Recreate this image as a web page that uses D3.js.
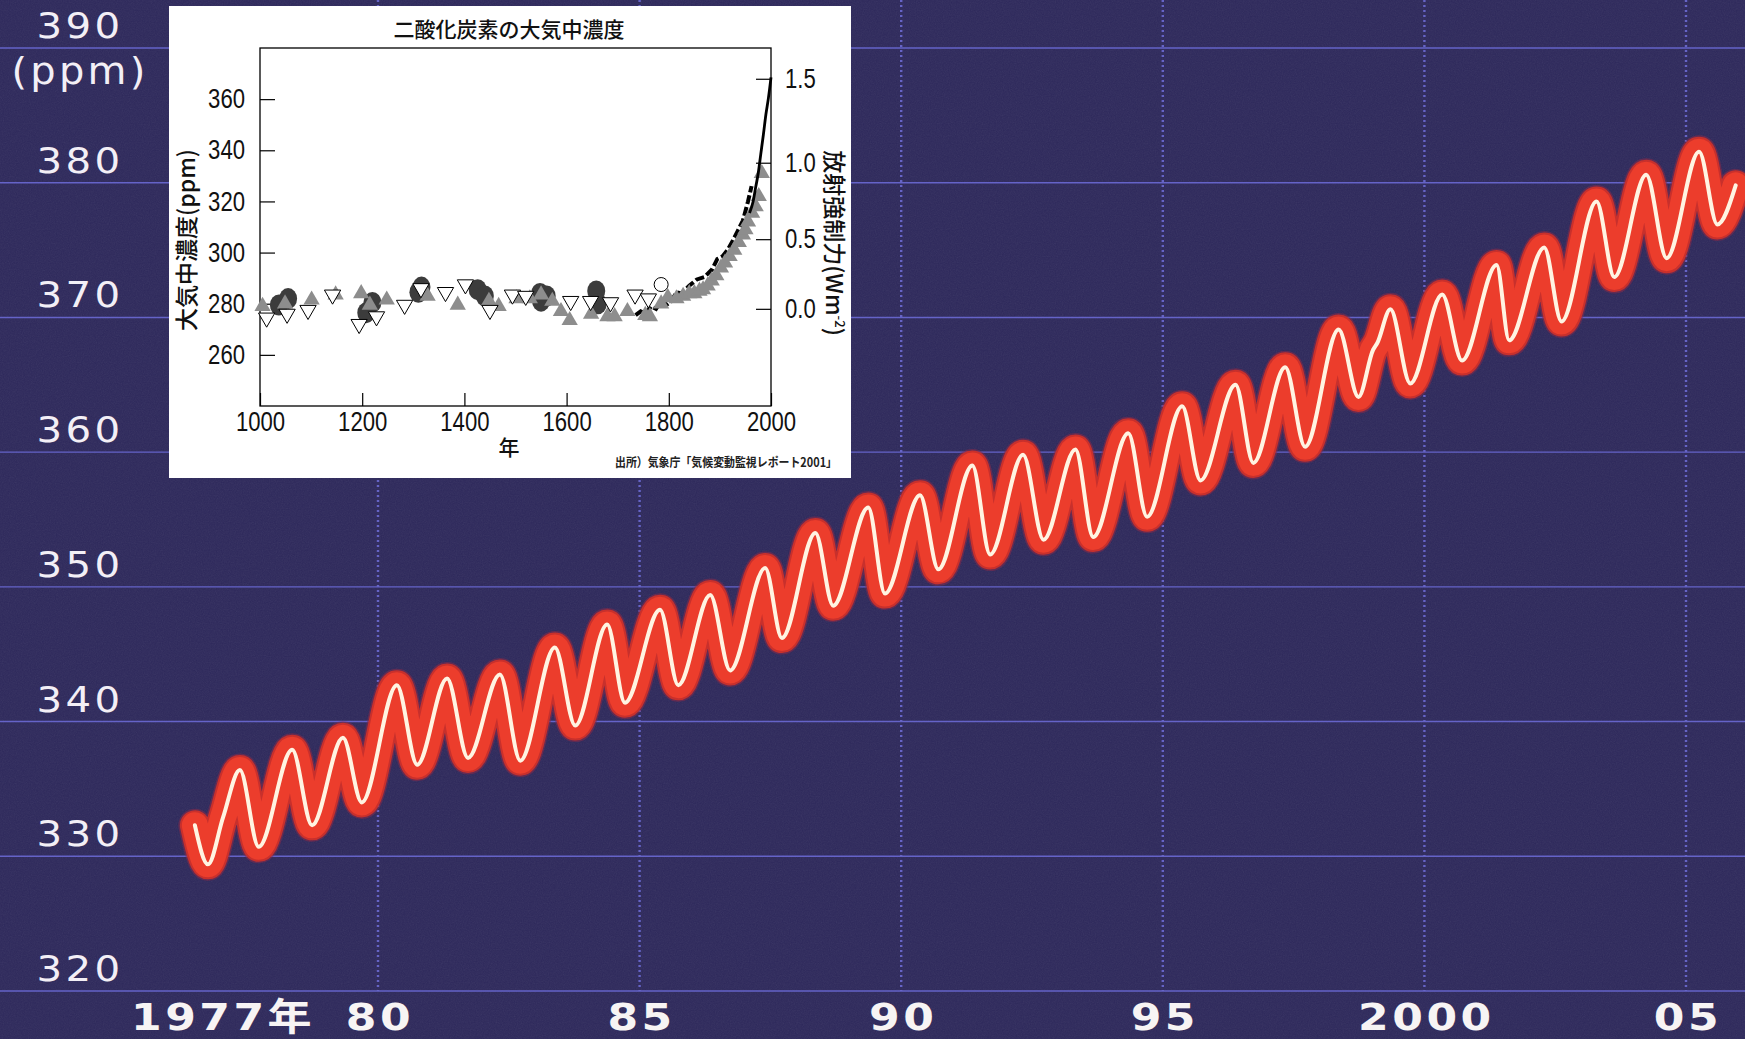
<!DOCTYPE html>
<html><head><meta charset="utf-8">
<script src="https://cdn.jsdelivr.net/npm/d3@7"></script>
<style>html,body{margin:0;padding:0;background:#2d285b;overflow:hidden}</style>
</head><body><svg id="c" width="1745" height="1039"></svg>
<script>
// ---------- main chart data (Mauna Loa-type CO2 record) ----------
const years = [1976.50,1976.75,1977.04,1977.36,1977.72,1978.36,1978.74,1979.33,1979.69,1980.36,1980.75,1981.32,1981.72,1982.33,1982.72,1983.38,1983.77,1984.38,1984.72,1985.39,1985.74,1986.35,1986.73,1987.40,1987.72,1988.36,1988.70,1989.37,1989.69,1990.36,1990.71,1991.36,1991.70,1992.33,1992.72,1993.33,1993.67,1994.34,1994.70,1995.37,1995.72,1996.39,1996.73,1997.34,1997.72,1998.36,1998.74,1999.02,1999.10,1999.35,1999.73,2000.34,2000.72,2001.38,2001.62,2002.29,2002.62,2003.29,2003.63,2004.24,2004.63,2005.25,2005.60,2005.95];
const ppm   = [332.3,329.4,332.9,336.4,330.7,337.9,332.3,338.8,334.0,342.7,336.8,343.2,337.3,343.5,337.1,345.5,339.7,347.2,341.4,348.3,342.7,349.4,343.8,351.4,346.2,354.0,348.6,355.9,349.5,356.8,351.3,359.0,352.4,359.8,353.5,360.2,353.7,361.4,355.2,363.4,357.9,365.0,359.2,366.3,360.4,369.1,364.1,367.6,368.1,370.6,365.1,371.7,366.8,373.9,368.3,375.2,369.7,378.6,373.0,380.6,374.4,382.3,376.9,379.8];
const yTicks = [320,330,340,350,360,370,380,390];
const xTickYears = [1977,1980,1985,1990,1995,2000,2005];
const xTickLabels = ["1977年","80","85","90","95","2000","05"];
const xGridYears = [1980,1985,1990,1995,2000,2005];
const yUnit = "(ppm)";

// ---------- inset data ----------
const insetTitle = "二酸化炭素の大気中濃度";
const insetYTitle = "大気中濃度(ppm)";
const insetRTitle = "放射強制力(Wm";
const insetXTitle = "年";
const insetSource = "出所）気象庁「気候変動監視レポート2001」";
const insetXTicks = [1000,1200,1400,1600,1800,2000];
const insetYTicks = [260,280,300,320,340,360];
const forcingTicks = [0,0.5,1.0,1.5];
const forcingLabels = ["0.0","0.5","1.0","1.5"];
const circleYears = [1037,1055,1208,1220,1310,1316,1426,1440,1548,1561,1550,1658,1661];
const circleVals  = [279.5,282,276.5,280.5,284.5,286.5,285.5,283,284,283,281,285,280];
const triUpYears = [1005,1049,1101,1148,1198,1215,1248,1328,1387,1448,1467,1502,1528,1550,1572,1589,1606,1648,1680,1694,1719,1754,1763,1785,1798,1815,1828,1840,1850,1860,1867,1876,1884,1893,1902,1910,1919,1928,1937,1945,1950,1955,1963,1970,1976,1982];
const triUpVals  = [279,280,281.5,283.5,284,279.5,281.5,283,279.5,281,279,282,282,283.5,281,277,273.5,276,275,275,277,275.5,275,280,282.5,282,283,284,284,285,285.5,287,289,291,294,296,298.5,301,304,307,309,312,315.5,318,322,331];
const triDownYears = [1013,1053,1094,1142,1194,1228,1283,1315,1363,1402,1450,1494,1520,1608,1647,1686,1734,1760];
const triDownVals  = [274.5,276,277.5,283.5,272,275,279.5,286,284.5,287.5,277.5,283.5,283,281,281,280.5,283.5,282];
const openCircleYears = [1785];
const openCircleVals = [287.5];
const dashYears = [1735,1745,1755,1765,1775,1785,1795,1805,1815,1825,1840,1855,1870,1885,1895,1905,1915,1925,1935,1945,1955,1962];
const dashVals  = [275.5,277,276,279,278,281,279.5,281,284.5,284,287,289.5,290.5,293.5,297.5,298.5,301,304.5,308.5,312.5,320,326];
const solidYears = [1958,1965,1970,1975,1980,1985,1990,1995,2000];
const solidVals  = [315.5,320,325.5,331,338.5,346,354,360.5,368.5];

const svg = d3.select("#c");
const W = 1745, H = 1039;

// background + subtle fabric noise
const defs = svg.append("defs");
const f = defs.append("filter").attr("id","noise").attr("x",0).attr("y",0).attr("width","100%").attr("height","100%");
f.append("feTurbulence").attr("type","fractalNoise").attr("baseFrequency",0.85).attr("numOctaves",2).attr("seed",4);
f.append("feColorMatrix").attr("type","saturate").attr("values",0);
f.append("feComponentTransfer").append("feFuncA").attr("type","table").attr("tableValues","0 0.09");
svg.append("rect").attr("width",W).attr("height",H).attr("fill","#2d285b");
svg.append("rect").attr("width",W).attr("height",H).attr("filter","url(#noise)");

// scales
const x = d3.scaleLinear().domain([1980,2005]).range([378,1686]);
const y = d3.scaleLinear().domain([320,390]).range([991,48]);

// grid
svg.append("g").selectAll("line").data(yTicks).join("line")
  .attr("x1",0).attr("x2",W).attr("y1",d=>y(d)).attr("y2",d=>y(d))
  .attr("stroke","#6563c8").attr("stroke-width",1.4);
svg.append("g").selectAll("line").data(xGridYears).join("line")
  .attr("x1",d=>x(d)).attr("x2",d=>x(d)).attr("y1",0).attr("y2",y(320))
  .attr("stroke","#6664c6").attr("stroke-width",2.4).attr("stroke-dasharray","2,3");

// y labels
svg.append("g").selectAll("text").data(yTicks).join("text")
  .attr("transform",d=>`translate(80,${y(d)-10}) scale(1.12,1)`).attr("text-anchor","middle")
  .attr("font-family","DejaVu Sans").attr("font-size",36).attr("letter-spacing",3)
  .attr("fill","#f3eff6").text(d=>d);
svg.append("text").attr("transform",`translate(80,${y(390)+36}) scale(1.08,1)`).attr("text-anchor","middle")
  .attr("font-family","DejaVu Sans").attr("font-size",37).attr("letter-spacing",3)
  .attr("fill","#f3eff6").text(yUnit);

// x labels
svg.append("g").selectAll("text").data(xTickYears).join("text")
  .attr("transform",d=>`translate(${x(d)+2},1030) scale(1.16,1)`).attr("text-anchor","middle")
  .attr("font-family","DejaVu Sans, Noto Sans CJK JP").attr("font-weight","bold")
  .attr("font-size",38).attr("letter-spacing",3)
  .attr("fill","#f7f4f4").text((d,i)=>xTickLabels[i]);

// CO2 line
const pts = years.map((d,i)=>[d,ppm[i]]);
const line = d3.line().x(d=>x(d[0])).y(d=>y(d[1])).curve(d3.curveMonotoneX);
const gL = svg.append("g").attr("fill","none").attr("stroke-linejoin","round").attr("stroke-linecap","round");
gL.append("path").attr("d",line(pts)).attr("stroke","#8a2a48").attr("stroke-opacity",0.55).attr("stroke-width",33);
gL.append("path").attr("d",line(pts)).attr("stroke","#c8302c").attr("stroke-width",30);
gL.append("path").attr("d",line(pts)).attr("stroke","#ec3d2c").attr("stroke-width",26);
gL.append("path").attr("d",line(pts)).attr("stroke","#fff4e2").attr("stroke-width",4);

// ---------- inset ----------
const ins = svg.append("g");
ins.append("rect").attr("x",169).attr("y",6).attr("width",682).attr("height",472).attr("fill","#ffffff");
const ix = d3.scaleLinear().domain([1000,2000]).range([260,771]);
const iy = d3.scaleLinear().domain([240,380]).range([406,48]);
const SX = 0.82; // condensed digits

const axB = ins.append("g").attr("transform","translate(0,406)")
  .call(d3.axisBottom(ix).tickValues(insetXTicks).tickSize(-13).tickPadding(20).tickFormat(d3.format("d")));
const axL = ins.append("g").attr("transform","translate(260,0)")
  .call(d3.axisLeft(iy).tickValues(insetYTicks).tickSize(-15).tickPadding(15));
const axR = ins.append("g").attr("transform","translate(771,0)")
  .call(d3.axisRight(iy).tickValues(forcingTicks.map(v=>278*Math.exp(v/5.35))).tickSize(-15).tickPadding(14).tickFormat((d,i)=>forcingLabels[i]));
[axB,axL,axR].forEach(a=>{
  a.select(".domain").remove();
  a.selectAll("line").attr("stroke","#000").attr("stroke-width",1.2);
  a.selectAll("text").attr("font-family","Liberation Sans, Arial").attr("font-size",27).attr("fill","#111")
    .attr("x",function(){ return (+this.getAttribute("x")||0)/SX; })
    .attr("transform",`scale(${SX},1)`);
});
axB.selectAll("text").attr("dy","0.2em");
ins.append("rect").attr("x",260).attr("y",48).attr("width",511).attr("height",358)
  .attr("fill","none").attr("stroke","#000").attr("stroke-width",1.3);

// markers
const tri = d3.symbol().type(d3.symbolTriangle).size(115);
ins.append("g").selectAll("ellipse").data(circleYears).join("ellipse")
  .attr("cx",d=>ix(d)).attr("cy",(d,i)=>iy(circleVals[i])).attr("rx",9).attr("ry",10.5)
  .attr("fill","#3c3c3c");
ins.append("path").datum(dashYears.map((d,i)=>[d,dashVals[i]]))
  .attr("d",d3.line().x(d=>ix(d[0])).y(d=>iy(d[1])))
  .attr("fill","none").attr("stroke","#000").attr("stroke-width",4).attr("stroke-dasharray","9,3");
ins.append("g").selectAll("path").data(triUpYears).join("path")
  .attr("d",tri).attr("transform",(d,i)=>`translate(${ix(d)},${iy(triUpVals[i])})`)
  .attr("fill","#8d8d8d");
ins.append("g").selectAll("path").data(triDownYears).join("path")
  .attr("d",tri).attr("transform",(d,i)=>`translate(${ix(d)},${iy(triDownVals[i])}) rotate(180)`)
  .attr("fill","#fff").attr("stroke","#000").attr("stroke-width",1);
ins.append("g").selectAll("circle").data(openCircleYears).join("circle")
  .attr("cx",d=>ix(d)).attr("cy",(d,i)=>iy(openCircleVals[i])).attr("r",7)
  .attr("fill","#fff").attr("stroke","#000").attr("stroke-width",1);
ins.append("path").datum(solidYears.map((d,i)=>[d,solidVals[i]]))
  .attr("d",d3.line().x(d=>ix(d[0])).y(d=>iy(d[1])).curve(d3.curveMonotoneX))
  .attr("fill","none").attr("stroke","#000").attr("stroke-width",2.8);

// titles
const jp = "Noto Sans CJK JP";
ins.append("text").attr("x",509).attr("y",37).attr("text-anchor","middle")
  .attr("font-family",jp).attr("font-weight",500).attr("font-size",21).attr("fill","#111").text(insetTitle);
ins.append("text").attr("transform","translate(195,240) rotate(-90)").attr("text-anchor","middle")
  .attr("font-family",jp).attr("font-weight",500).attr("font-size",23).attr("fill","#111").text(insetYTitle);
const rt = ins.append("text").attr("transform","translate(826,243) rotate(90)").attr("text-anchor","middle")
  .attr("font-family",jp).attr("font-weight",500).attr("font-size",23).attr("fill","#111");
rt.append("tspan").text(insetRTitle);
rt.append("tspan").attr("font-size",13).attr("dy",-9).text("-2");
rt.append("tspan").attr("dy",9).text(")");
ins.append("text").attr("x",509).attr("y",455).attr("text-anchor","middle")
  .attr("font-family",jp).attr("font-weight",500).attr("font-size",21).attr("fill","#111").text(insetXTitle);
ins.append("text").attr("x",615).attr("y",467)
  .attr("font-family",jp).attr("font-weight",700).attr("font-size",12.5)
  .attr("textLength",222).attr("lengthAdjust","spacingAndGlyphs").attr("fill","#222").text(insetSource);
</script></body></html>
